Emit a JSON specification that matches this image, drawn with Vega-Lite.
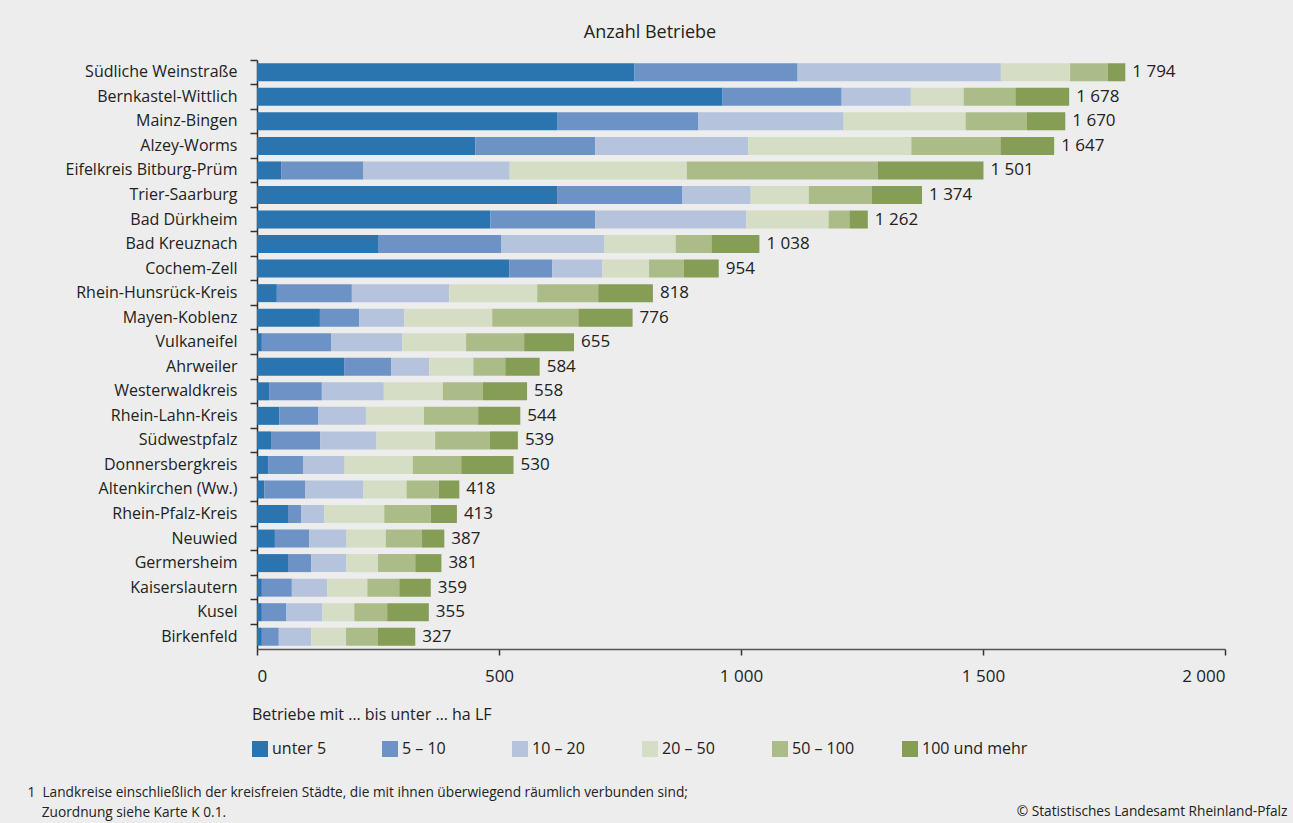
{
  "$schema": "https://vega.github.io/schema/vega-lite/v6.json",
  "autosize": {"type": "none"},
  "width": 968,
  "height": 589,
  "padding": {"left": 257, "top": 60, "right": 68, "bottom": 174},
  "background": "#ECEDEC",
  "title": {"text": "Anzahl Betriebe", "anchor": "middle", "frame": "group", "dx": -91, "offset": 17, "fontSize": 18, "fontWeight": "normal", "color": "#222222", "font": "Open Sans"},
  "data": {"values": [
    {"Kreis": "Südliche Weinstraße", "unter 5": 780, "5 – 10": 337, "10 – 20": 420, "20 – 50": 143, "50 – 100": 78, "100 und mehr": 36},
    {"Kreis": "Bernkastel-Wittlich", "unter 5": 962, "5 – 10": 246, "10 – 20": 143, "20 – 50": 109, "50 – 100": 107, "100 und mehr": 111},
    {"Kreis": "Mainz-Bingen", "unter 5": 620, "5 – 10": 292, "10 – 20": 300, "20 – 50": 252, "50 – 100": 126, "100 und mehr": 80},
    {"Kreis": "Alzey-Worms", "unter 5": 451, "5 – 10": 248, "10 – 20": 316, "20 – 50": 337, "50 – 100": 184, "100 und mehr": 111},
    {"Kreis": "Eifelkreis Bitburg-Prüm", "unter 5": 50, "5 – 10": 170, "10 – 20": 302, "20 – 50": 366, "50 – 100": 395, "100 und mehr": 218},
    {"Kreis": "Trier-Saarburg", "unter 5": 620, "5 – 10": 259, "10 – 20": 141, "20 – 50": 120, "50 – 100": 130, "100 und mehr": 104},
    {"Kreis": "Bad Dürkheim", "unter 5": 482, "5 – 10": 217, "10 – 20": 312, "20 – 50": 170, "50 – 100": 43, "100 und mehr": 38},
    {"Kreis": "Bad Kreuznach", "unter 5": 250, "5 – 10": 255, "10 – 20": 213, "20 – 50": 147, "50 – 100": 74, "100 und mehr": 99},
    {"Kreis": "Cochem-Zell", "unter 5": 521, "5 – 10": 89, "10 – 20": 103, "20 – 50": 97, "50 – 100": 72, "100 und mehr": 72},
    {"Kreis": "Rhein-Hunsrück-Kreis", "unter 5": 41, "5 – 10": 155, "10 – 20": 201, "20 – 50": 182, "50 – 100": 126, "100 und mehr": 113},
    {"Kreis": "Mayen-Koblenz", "unter 5": 130, "5 – 10": 81, "10 – 20": 93, "20 – 50": 182, "50 – 100": 178, "100 und mehr": 112},
    {"Kreis": "Vulkaneifel", "unter 5": 10, "5 – 10": 143, "10 – 20": 147, "20 – 50": 132, "50 – 100": 120, "100 und mehr": 103},
    {"Kreis": "Ahrweiler", "unter 5": 180, "5 – 10": 97, "10 – 20": 79, "20 – 50": 91, "50 – 100": 66, "100 und mehr": 71},
    {"Kreis": "Westerwaldkreis", "unter 5": 25, "5 – 10": 109, "10 – 20": 128, "20 – 50": 122, "50 – 100": 83, "100 und mehr": 91},
    {"Kreis": "Rhein-Lahn-Kreis", "unter 5": 46, "5 – 10": 81, "10 – 20": 98, "20 – 50": 120, "50 – 100": 112, "100 und mehr": 87},
    {"Kreis": "Südwestpfalz", "unter 5": 29, "5 – 10": 102, "10 – 20": 116, "20 – 50": 121, "50 – 100": 113, "100 und mehr": 58},
    {"Kreis": "Donnersbergkreis", "unter 5": 23, "5 – 10": 73, "10 – 20": 85, "20 – 50": 141, "50 – 100": 100, "100 und mehr": 108},
    {"Kreis": "Altenkirchen (Ww.)", "unter 5": 15, "5 – 10": 85, "10 – 20": 120, "20 – 50": 89, "50 – 100": 67, "100 und mehr": 42},
    {"Kreis": "Rhein-Pfalz-Kreis", "unter 5": 64, "5 – 10": 27, "10 – 20": 48, "20 – 50": 124, "50 – 100": 96, "100 und mehr": 54},
    {"Kreis": "Neuwied", "unter 5": 37, "5 – 10": 71, "10 – 20": 77, "20 – 50": 81, "50 – 100": 75, "100 und mehr": 46},
    {"Kreis": "Germersheim", "unter 5": 64, "5 – 10": 48, "10 – 20": 72, "20 – 50": 66, "50 – 100": 77, "100 und mehr": 54},
    {"Kreis": "Kaiserslautern", "unter 5": 10, "5 – 10": 62, "10 – 20": 73, "20 – 50": 83, "50 – 100": 66, "100 und mehr": 65},
    {"Kreis": "Kusel", "unter 5": 10, "5 – 10": 50, "10 – 20": 75, "20 – 50": 66, "50 – 100": 68, "100 und mehr": 86},
    {"Kreis": "Birkenfeld", "unter 5": 10, "5 – 10": 35, "10 – 20": 67, "20 – 50": 72, "50 – 100": 66, "100 und mehr": 77}
  ]},
  "transform": [
    {"fold": ["unter 5", "5 – 10", "10 – 20", "20 – 50", "50 – 100", "100 und mehr"], "as": ["Klasse", "Anzahl"]},
    {"calculate": "indexof(['unter 5', '5 – 10', '10 – 20', '20 – 50', '50 – 100', '100 und mehr'], datum.Klasse)", "as": "Reihenfolge"}
  ],
  "resolve": {"axis": {"x": "independent", "y": "independent"}},
  "layer": [
    {
      "mark": {"type": "bar"},
      "encoding": {
        "y": {
          "field": "Kreis", "type": "nominal",
          "sort": ["Südliche Weinstraße", "Bernkastel-Wittlich", "Mainz-Bingen", "Alzey-Worms", "Eifelkreis Bitburg-Prüm", "Trier-Saarburg", "Bad Dürkheim", "Bad Kreuznach", "Cochem-Zell", "Rhein-Hunsrück-Kreis", "Mayen-Koblenz", "Vulkaneifel", "Ahrweiler", "Westerwaldkreis", "Rhein-Lahn-Kreis", "Südwestpfalz", "Donnersbergkreis", "Altenkirchen (Ww.)", "Rhein-Pfalz-Kreis", "Neuwied", "Germersheim", "Kaiserslautern", "Kusel", "Birkenfeld"],
          "scale": {"paddingInner": 0.267, "paddingOuter": 0.1335},
          "axis": {"orient": "left", "title": null, "ticks": false, "tickSize": 0, "domain": false, "labelPadding": 20, "labelFont": "Open Sans", "labelFontSize": 16, "labelColor": "#222222", "grid": false, "labelLimit": 300}
        },
        "x": {
          "field": "Anzahl", "type": "quantitative", "aggregate": "sum", "stack": "zero",
          "scale": {"domain": [0, 2000], "nice": false},
          "axis": {
            "orient": "bottom", "values": [0, 500, 1000, 1500, 2000], "format": ",d", "grid": false,
            "domainColor": "#555555", "domainWidth": 1.5, "tickColor": "#333333", "tickWidth": 1.5, "tickSize": 6,
            "labelPadding": 13, "labelFont": "Open Sans", "labelFontSize": 17, "labelColor": "#222222",
            "title": ["1\u00a0\u00a0Landkreise einschließlich der kreisfreien Städte, die mit ihnen überwiegend räumlich verbunden sind;", "\u200b\u00a0\u00a0\u00a0\u00a0Zuordnung siehe Karte K 0.1."],
            "titleX": -230, "titleY": 136, "titleAlign": "left", "titleAnchor": "start", "titleBaseline": "top", "titleLineHeight": 20,
            "titleFont": "Open Sans", "titleFontSize": 13.7, "titleFontWeight": "normal", "titleColor": "#222222", "titleLimit": 1000
          }
        },
        "order": {"field": "Reihenfolge", "type": "quantitative"},
        "color": {
          "field": "Klasse", "type": "nominal",
          "sort": ["unter 5", "5 – 10", "10 – 20", "20 – 50", "50 – 100", "100 und mehr"],
          "scale": {"domain": ["unter 5", "5 – 10", "10 – 20", "20 – 50", "50 – 100", "100 und mehr"], "range": ["#2A74B0", "#6D92C6", "#B5C3DD", "#D6DDC5", "#ACBC89", "#859D55"]},
          "legend": {
            "title": "Betriebe mit … bis unter … ha LF", "orient": "none", "legendX": -5, "legendY": 647,
            "direction": "horizontal", "columns": 6, "gridAlign": "all", "columnPadding": 4,
            "symbolType": "square", "symbolSize": 256, "symbolStrokeWidth": 0, "symbolOpacity": 1,
            "labelFont": "Open Sans", "labelFontSize": 16, "labelColor": "#222222", "labelOffset": 4, "labelLimit": 300,
            "titleFont": "Open Sans", "titleFontSize": 16, "titleFontWeight": "normal", "titleColor": "#222222", "titlePadding": 18, "titleLimit": 600
          }
        }
      }
    },
    {
      "mark": {"type": "text", "align": "left", "baseline": "middle", "dx": 7, "font": "Open Sans", "fontSize": 17, "color": "#222222"},
      "encoding": {
        "y": {
          "field": "Kreis", "type": "nominal",
          "sort": ["Südliche Weinstraße", "Bernkastel-Wittlich", "Mainz-Bingen", "Alzey-Worms", "Eifelkreis Bitburg-Prüm", "Trier-Saarburg", "Bad Dürkheim", "Bad Kreuznach", "Cochem-Zell", "Rhein-Hunsrück-Kreis", "Mayen-Koblenz", "Vulkaneifel", "Ahrweiler", "Westerwaldkreis", "Rhein-Lahn-Kreis", "Südwestpfalz", "Donnersbergkreis", "Altenkirchen (Ww.)", "Rhein-Pfalz-Kreis", "Neuwied", "Germersheim", "Kaiserslautern", "Kusel", "Birkenfeld"],
          "axis": {
            "orient": "left", "labels": false, "grid": false, "ticks": true, "tickSize": 7, "tickColor": "#333333", "tickWidth": 1.5, "bandPosition": -0.182,
            "domain": true, "domainColor": "#333333", "domainWidth": 1.5,
            "title": "© Statistisches Landesamt Rheinland-Pfalz", "titleAngle": 0, "titleX": 1030, "titleY": 751, "titleAlign": "right", "titleBaseline": "middle",
            "titleFont": "Open Sans", "titleFontSize": 13.7, "titleFontWeight": "normal", "titleColor": "#222222", "titleLimit": 1000
          }
        },
        "x": {"field": "Anzahl", "type": "quantitative", "aggregate": "sum", "axis": null},
        "text": {"field": "Anzahl", "type": "quantitative", "aggregate": "sum", "format": ",d"}
      }
    }
  ],
  "config": {
    "locale": {"number": {"decimal": ",", "thousands": " ", "grouping": [3], "currency": ["", " €"]}},
    "view": {"stroke": null},
    "font": "Open Sans"
  }
}
